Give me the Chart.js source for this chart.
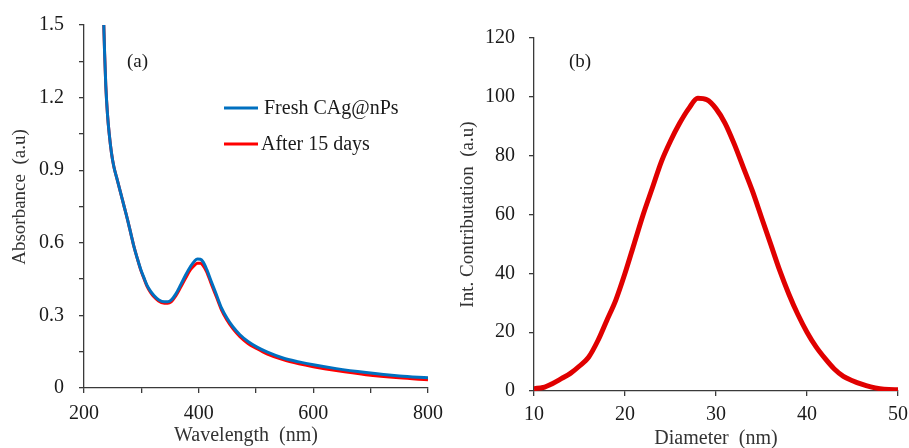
<!DOCTYPE html>
<html>
<head>
<meta charset="utf-8">
<script src="https://cdn.jsdelivr.net/npm/chart.js@4"></script>
<style>
  html, body { margin: 0; padding: 0; background: #fff; }
  #wrap { position: relative; width: 909px; height: 448px; }
  canvas { position: absolute; top: 0; }
</style>
</head>
<body>
<div id="wrap">
  <canvas id="uvChart" width="450" height="448" style="left:0"></canvas>
  <canvas id="sizeChart" width="459" height="448" style="left:450px"></canvas>
</div>
<script>
// Panel (a): UV-vis absorbance
const wavelength = [234.5, 236, 238, 241, 244, 248, 252, 258, 264, 270, 276, 282, 287, 293, 299, 305, 310, 316, 322, 330, 340, 346, 352, 360, 369, 378, 386, 393, 398, 403, 408, 414, 422, 431, 440, 449, 460, 472, 486, 501, 520, 547, 575, 600, 640, 692, 750, 800];
const freshAbs = [1.50, 1.38, 1.25, 1.13, 1.05, 0.97, 0.915, 0.86, 0.805, 0.75, 0.695, 0.635, 0.585, 0.535, 0.49, 0.453, 0.424, 0.40, 0.382, 0.365, 0.356, 0.356, 0.363, 0.388, 0.428, 0.47, 0.503, 0.525, 0.533, 0.532, 0.52, 0.49, 0.44, 0.385, 0.33, 0.29, 0.252, 0.22, 0.192, 0.17, 0.148, 0.124, 0.108, 0.096, 0.08, 0.064, 0.05, 0.042];
const agedAbs = [1.50, 1.38, 1.25, 1.13, 1.05, 0.97, 0.915, 0.86, 0.805, 0.75, 0.695, 0.635, 0.585, 0.535, 0.487, 0.45, 0.42, 0.395, 0.377, 0.36, 0.35, 0.35, 0.356, 0.38, 0.418, 0.458, 0.49, 0.508, 0.515, 0.515, 0.505, 0.48, 0.43, 0.376, 0.322, 0.282, 0.244, 0.212, 0.184, 0.163, 0.14, 0.117, 0.1, 0.088, 0.072, 0.055, 0.042, 0.034];

// Panel (b): size distribution
const diameter = [10, 11, 12, 13, 14, 15, 16, 17, 18, 19, 20, 21, 22, 23, 24, 25, 26, 27, 28, 29, 30, 31, 32, 33, 34, 35, 36, 37, 38, 39, 40, 41, 42, 43, 44, 45, 46, 47, 48, 49, 50];
const intensity = [0.8, 1.2, 2.5, 4.2, 6, 8.5, 11.5, 17, 24, 31, 40, 50, 60, 69, 78, 85, 91, 96, 99.5, 99, 96, 91, 84, 76, 68, 59, 50, 41, 33, 26, 20, 15, 11, 7.5, 5, 3.5, 2.3, 1.4, 0.8, 0.5, 0.4];

const serif = "'Liberation Serif', 'DejaVu Serif', serif";
const axisColor = '#3a3a3a';
const textColor = '#1a1a1a';
const titleColor = '#333';
const pad = '\u00a0\u00a0\u00a0\u00a0';  // nudges off-centre axis titles

// draws panel tag and (optional) in-plot legend
const panelText = {
  id: 'panelText',
  afterDraw(chart, args, opts) {
    const ctx = chart.ctx;
    ctx.save();
    ctx.fillStyle = textColor;
    ctx.font = '19px ' + serif;
    ctx.textBaseline = 'middle';
    ctx.textAlign = 'left';
    ctx.fillText(opts.tag, opts.tagX, opts.tagY);
    if (opts.legend) {
      ctx.font = '20px ' + serif;
      chart.data.datasets.forEach((ds, i) => {
        const y = opts.legendY + i * 36;
        ctx.strokeStyle = ds.borderColor;
        ctx.lineWidth = 3;
        ctx.beginPath();
        ctx.moveTo(opts.legendX, y);
        ctx.lineTo(opts.legendX + 34, y);
        ctx.stroke();
        ctx.fillText(ds.label, opts.legendX + (i === 0 ? 40 : 37), y + 1);
      });
    }
    ctx.restore();
  }
};

// fixed axis box, no extra label overhang padding
const fitX = h => s => { s.height = h; s.paddingLeft = 0; s.paddingRight = 0; };
const fitY = w => s => { s.width = w; s.paddingTop = 0; s.paddingBottom = 0; };

function axisCommon(extra) {
  return Object.assign({
    type: 'linear',
    border: { display: true, color: axisColor, width: 1.3 },
    grid: { drawOnChartArea: false, drawTicks: true, tickLength: 5, color: axisColor, lineWidth: 1.3 },
  }, extra);
}

new Chart(document.getElementById('uvChart'), {
  type: 'line',
  data: {
    datasets: [
      {
        label: 'Fresh CAg@nPs',
        data: wavelength.map((w, i) => ({ x: w, y: freshAbs[i] })),
        borderColor: '#0070C0',
        borderWidth: 3,
        pointRadius: 0,
        cubicInterpolationMode: 'monotone'
      },
      {
        label: 'After 15 days',
        data: wavelength.map((w, i) => ({ x: w, y: agedAbs[i] })),
        borderColor: '#FF0000',
        borderWidth: 3,
        pointRadius: 0,
        cubicInterpolationMode: 'monotone'
      }
    ]
  },
  options: {
    responsive: false,
    animation: false,
    events: [],
    layout: { padding: { top: 25, right: 22, left: 0, bottom: 0 } },
    plugins: {
      legend: { display: false },
      tooltip: { enabled: false },
      panelText: { tag: '(a)', tagX: 127, tagY: 62, legend: true, legendX: 224, legendY: 108 }
    },
    scales: {
      x: axisCommon({
        min: 200, max: 800,
        afterFit: fitX(60),
        ticks: {
          stepSize: 100, autoSkip: false, maxRotation: 0, padding: 9,
          color: textColor, font: { family: serif, size: 20 },
          callback: v => (v % 200 === 0 ? v : '')
        },
        title: { display: true, text: 'Wavelength  (nm)' + pad, color: titleColor, font: { family: serif, size: 20 }, padding: { top: 0, bottom: 0 } }
      }),
      y: axisCommon({
        min: 0, max: 1.5,
        afterFit: fitY(84),
        ticks: {
          stepSize: 0.15, autoSkip: false, padding: 15,
          color: textColor, font: { family: serif, size: 20 },
          callback: v => {
            const k = Math.round(v / 0.15);
            return k % 2 === 0 ? (k === 0 ? '0' : (k * 0.15).toFixed(1)) : '';
          }
        },
        title: { display: true, text: pad + 'Absorbance  (a.u)', color: titleColor, font: { family: serif, size: 19 }, padding: { top: 9, bottom: 0 } }
      })
    }
  },
  plugins: [panelText]
});

new Chart(document.getElementById('sizeChart'), {
  type: 'line',
  data: {
    datasets: [{
      label: 'Intensity',
      data: diameter.map((d, i) => ({ x: d, y: intensity[i] })),
      borderColor: '#E00000',
      borderWidth: 5,
      pointRadius: 0,
      cubicInterpolationMode: 'monotone'
    }]
  },
  options: {
    responsive: false,
    animation: false,
    events: [],
    layout: { padding: { top: 38, right: 11, left: 0, bottom: 0 } },
    plugins: {
      legend: { display: false },
      tooltip: { enabled: false },
      panelText: { tag: '(b)', tagX: 119, tagY: 62, legend: false }
    },
    scales: {
      x: axisCommon({
        min: 10, max: 50,
        afterFit: fitX(57),
        ticks: {
          stepSize: 10, autoSkip: false, maxRotation: 0, padding: 7,
          color: textColor, font: { family: serif, size: 20 }
        },
        title: { display: true, text: 'Diameter  (nm)', color: titleColor, font: { family: serif, size: 20 }, padding: { top: 0, bottom: -3 } }
      }),
      y: axisCommon({
        min: 0, max: 120,
        afterFit: fitY(84),
        ticks: {
          stepSize: 20, autoSkip: false, padding: 14,
          color: textColor, font: { family: serif, size: 20 }
        },
        title: { display: true, text: 'Int. Contributation  (a.u)', color: titleColor, font: { family: serif, size: 19 }, padding: { top: 7, bottom: 0 } }
      })
    }
  },
  plugins: [panelText]
});
</script>
</body>
</html>
